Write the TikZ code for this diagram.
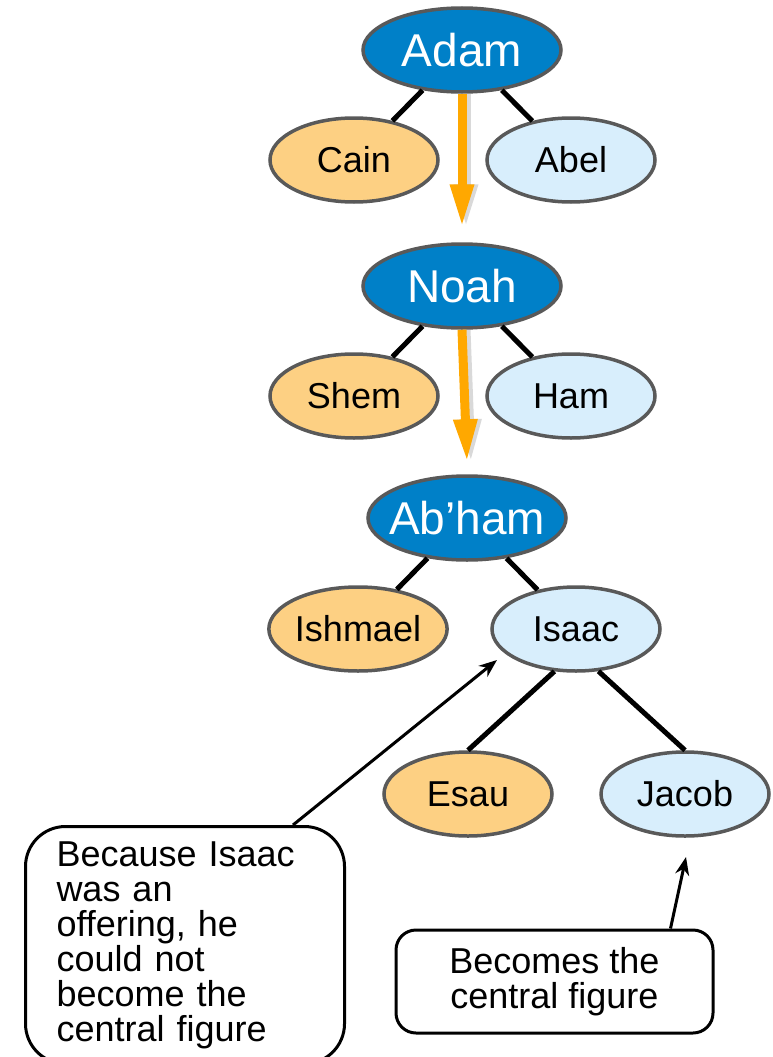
\documentclass[tikz,border=0pt]{standalone}
\usepackage{fontspec}
\setmainfont{Liberation Sans}
\usetikzlibrary{arrows.meta,positioning,shapes.geometric}

\begin{document}
\begin{tikzpicture}[x=1pt, y=-1pt,
  parent/.style={ellipse, draw=edgec, line width=3.5pt, fill=parentc, text=white,
    minimum width=198pt, minimum height=84pt, inner ysep=0pt, inner xsep=-10pt,
    font=\fontsize{46}{46}\selectfont},
  child/.style={ellipse, draw=edgec, line width=3.5pt,
    minimum width=168pt, minimum height=84pt, inner sep=0pt,
    font=\fontsize{36}{36}\selectfont},
  lost/.style={child, fill=lostc},
  heir/.style={child, fill=heirc},
  branch/.style={line width=5pt},
  lineage/.style={-{Triangle[length=43pt,width=22pt]}, line width=9pt, draw=linec},
  glow/.style={-{Triangle[length=43pt,width=22pt]}, line width=9pt,
    draw=black, opacity=0.15},
  note/.style={draw, line width=3pt, font=\fontsize{36}{35}\selectfont},
  pointer/.style={-{Stealth[length=18pt,width=14pt]}, line width=3pt}
]

\definecolor{parentc}{HTML}{0080C8}
\definecolor{lostc}{HTML}{FDD083}
\definecolor{heirc}{HTML}{D8EEFC}
\definecolor{edgec}{HTML}{595959}
\definecolor{linec}{HTML}{FFA800}

\useasboundingbox (0,0) rectangle (773,1057);

% generations
\node[parent] (adam)    at (462,50)  {Adam};
\node[lost]   (cain)    at (354,160) {Cain};
\node[heir]   (abel)    at (571,160) {Abel};

\node[parent] (noah)    at (462,286) {Noah};
\node[lost]   (shem)    at (354,396) {Shem};
\node[heir]   (ham)     at (571,396) {Ham};

\node[parent] (abham)   at (467,518) {Ab’ham};
\node[lost]   (ishmael) at (358,629) {Ishmael};
\node[heir]   (isaac)   at (576,629) {Isaac};

\node[lost]   (esau)    at (468,794) {Esau};
\node[heir]   (jacob)   at (685,794) {Jacob};

\draw[branch] (adam) -- (cain);
\draw[branch] (adam) -- (abel);
\draw[branch] (noah) -- (shem);
\draw[branch] (noah) -- (ham);
\draw[branch] (abham) -- (ishmael);
\draw[branch] (abham) -- (isaac);
\draw[branch] (isaac.-117) -- (esau.north);
\draw[branch] (isaac.-62) -- (jacob.north);

% line of the chosen
\draw[glow] ([xshift=4pt]adam.south) -- ([xshift=4pt,yshift=15pt]noah.north);
\draw[glow] ([xshift=4pt]noah.south) -- ([xshift=4pt,yshift=12pt]abham.north);
\draw[lineage] (adam.south) -- ([yshift=15pt]noah.north);
\draw[lineage] (noah.south) -- ([yshift=12pt]abham.north);

% callouts
\node[note, rounded corners=40pt, anchor=north west, minimum width=319pt,
  text width=257pt, inner xsep=31pt, inner ysep=15pt, align=left]
  (offering) at (24,825)
  {Because Isaac\\ was an\\ offering, he\\ could not\\ become the\\ central figure};
\node[note, rounded corners=20pt, minimum width=317pt, minimum height=103pt,
  align=center] (central) at (554.5,981.5) {Becomes the\\ central figure};

\coordinate (isaacpt) at (497,660);
\coordinate (jacobpt) at (686,857);
\draw[pointer] ([xshift=108pt]offering.north) -- (isaacpt);
\draw[pointer] ([xshift=116pt]central.north) -- (jacobpt);

\end{tikzpicture}
\end{document}
